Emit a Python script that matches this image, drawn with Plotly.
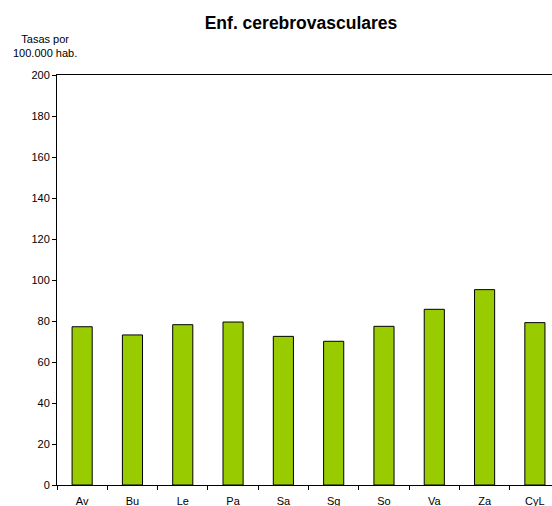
import plotly.graph_objects as go

categories = ["Av", "Bu", "Le", "Pa", "Sa", "Sg", "So", "Va", "Za", "CyL"]
rates = [77.2, 73.2, 78.2, 79.5, 72.5, 70.1, 77.4, 85.7, 95.3, 79.2]
y_ticks = [0, 20, 40, 60, 80, 100, 120, 140, 160, 180, 200]

fig = go.Figure(go.Bar(
    x=categories, y=rates, width=0.4,
    marker=dict(color="#99CC00", line=dict(color="#000000", width=1)),
))

font = "Liberation Sans, Arial, sans-serif"
fig.update_layout(
    width=552, height=506,
    margin=dict(l=57, r=0, t=75, b=21, autoexpand=False),
    paper_bgcolor="white", plot_bgcolor="white",
    showlegend=False,
    font=dict(family=font, size=11, color="#000000"),
    title=dict(text="<b>Enf. cerebrovasculares</b>", x=301/552, xanchor="center",
               y=1 - 23/506, yanchor="middle", font=dict(size=17.5, family=font)),
    xaxis=dict(range=[-0.5, 9.34], showline=True, linecolor="black", linewidth=1,
               mirror=True, ticks="outside", ticklen=4, tickcolor="black",
               tickson="boundaries", showgrid=False, tickfont=dict(size=11),
               ticklabelstandoff=6, automargin=False, fixedrange=True),
    yaxis=dict(range=[0, 200], tickvals=y_ticks, showline=True, linecolor="black",
               linewidth=1, ticks="outside", ticklen=4, tickcolor="black",
               showgrid=False, zeroline=False, tickfont=dict(size=11),
               automargin=False, fixedrange=True),
    annotations=[dict(text="Tasas por<br>100.000 hab.", xref="paper", yref="paper",
                      x=-0.025, y=1 + 14/410, xanchor="center", yanchor="bottom",
                      showarrow=False, font=dict(size=11, family=font), align="center")],
)

fig.write_html("out.html", post_script="document.body.style.margin='0';",
               config={"displayModeBar": False})
